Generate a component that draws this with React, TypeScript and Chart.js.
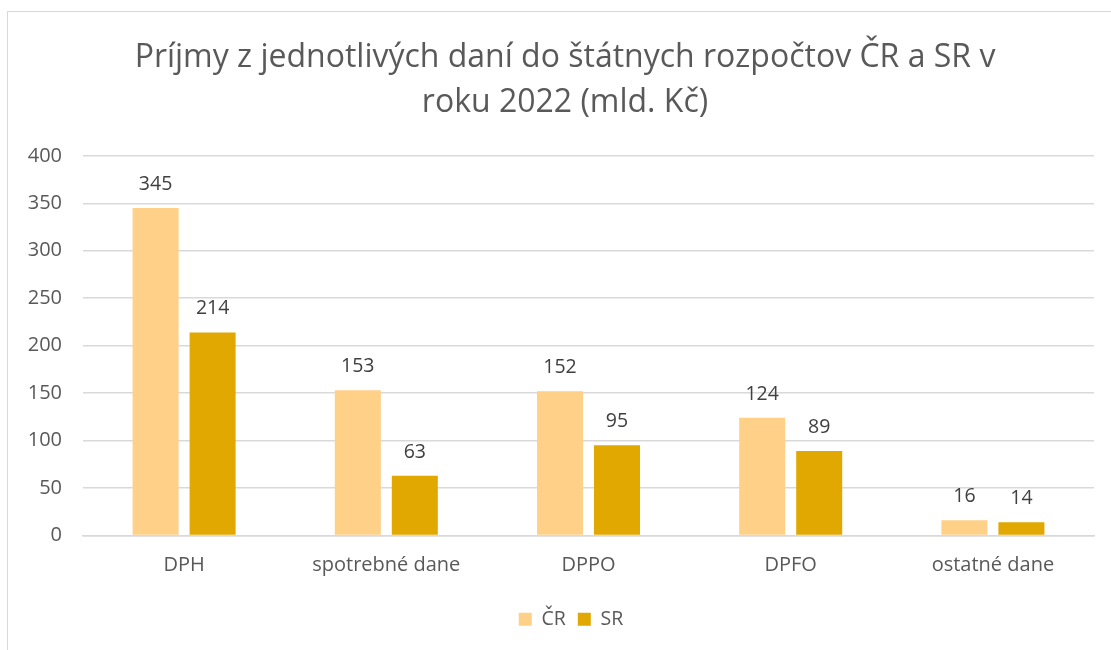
import React, { useEffect, useRef } from "react";
import { Chart, registerables } from "chart.js";

Chart.register(...registerables);

const TITLE_LINES = ["Príjmy z jednotlivých daní do štátnych rozpočtov ČR a SR v", "roku 2022 (mld. Kč)"];
const categories = ["DPH", "spotrebné dane", "DPPO", "DPFO", "ostatné dane"];
const seriesNames = ["ČR", "SR"];
const crValues = [345, 153, 152, 124, 16];
const srValues = [214, 63, 95, 89, 14];
const yMin = 0;
const yMax = 400;
const yStep = 50;

const FONT = "'Open Sans', 'Noto Sans', sans-serif";
const TEXT = "#595959";

const valueLabels = {
  id: "valueLabels",
  afterDatasetsDraw(chart: any) {
    const ctx = chart.ctx;
    ctx.save();
    ctx.font = `19.5px ${FONT}`;
    ctx.fillStyle = "#404040";
    ctx.textAlign = "center";
    ctx.textBaseline = "bottom";
    chart.data.datasets.forEach((ds: any, i: number) => {
      const meta = chart.getDatasetMeta(i);
      meta.data.forEach((bar: any, j: number) => {
        ctx.fillText(String(ds.data[j]), bar.x, bar.y - 14);
      });
    });
    ctx.restore();
  },
};

const shiftBoxes = {
  id: "shiftBoxes",
  afterLayout(chart: any) {
    const t = chart.titleBlock;
    if (t) {
      t.left += 18;
      t.right += 18;
    }
    const l = chart.legend;
    if (l) {
      l.left += 24;
      l.right += 24;
      if (l.legendHitBoxes) l.legendHitBoxes.forEach((h: any) => (h.left += 24));
    }
  },
};

export default function App() {
  const ref = useRef<HTMLCanvasElement>(null);
  useEffect(() => {
    if (!ref.current) return;
    const chart = new Chart(ref.current, {
      type: "bar",
      data: {
        labels: categories,
        datasets: [
          { label: seriesNames[0], data: crValues, backgroundColor: "#FFD088" },
          { label: seriesNames[1], data: srValues, backgroundColor: "#E0A800" },
        ],
      },
      options: {
        animation: false,
        responsive: false,
        maintainAspectRatio: false,
        layout: { padding: { left: 0, right: 17, top: 0, bottom: 11 } },
        datasets: {
          bar: { categoryPercentage: 0.564, barPercentage: 0.807 },
        } as any,
        scales: {
          x: {
            grid: { display: false, drawTicks: false },
            border: { display: true, color: "#d9d9d9", width: 1.5 },
            ticks: { color: TEXT, font: { family: FONT, size: 20 }, padding: 18 },
            afterFit(scale: any) {
              scale.height = 62;
            },
          },
          y: {
            min: yMin,
            max: yMax,
            ticks: { stepSize: yStep, color: TEXT, font: { family: FONT, size: 20 }, padding: 21 },
            grid: { color: "#d9d9d9", lineWidth: 1.5, drawTicks: false },
            border: { display: false },
            afterFit(scale: any) {
              scale.width = 83;
            },
          },
        },
        plugins: {
          title: {
            display: true,
            text: TITLE_LINES,
            color: TEXT,
            font: { family: FONT, size: 32, weight: "normal", lineHeight: 1.42 },
            padding: { top: 35, bottom: 30 },
          },
          legend: {
            position: "bottom",
            labels: {
              color: TEXT,
              font: { family: FONT, size: 19.5 },
              boxWidth: 13,
              boxHeight: 13,
              padding: 12,
            },
          },
          tooltip: { enabled: false },
        },
      },
      plugins: [valueLabels, shiftBoxes],
    });
    return () => chart.destroy();
  }, []);
  return (
    <div style={{ position: "fixed", left: 0, top: 0, width: 1111, height: 650, background: "#fff" }}>
      <div
        style={{
          position: "absolute",
          left: 7,
          top: 11,
          width: 1200,
          height: 700,
          border: "1.5px solid #d9d9d9",
          boxSizing: "border-box",
        }}
      />
      <canvas ref={ref} width={1111} height={650} style={{ position: "absolute", left: 0, top: 0 }} />
    </div>
  );
}
